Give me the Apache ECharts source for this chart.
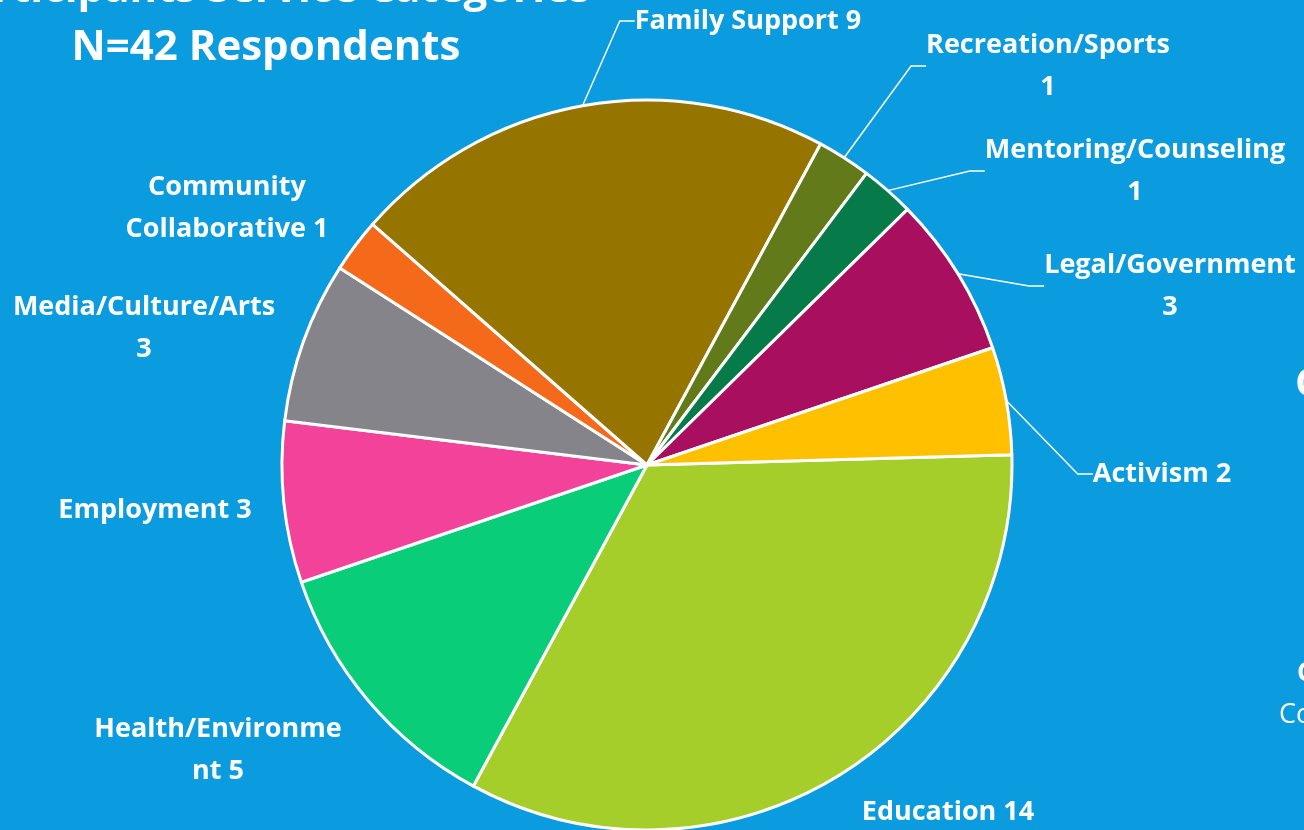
<!DOCTYPE html>
<html>
<head>
<meta charset="utf-8">
<style>
  html, body { margin: 0; padding: 0; background: #0b9bdf; }
  #chart { width: 1304px; height: 830px; }
</style>
<script src="https://cdn.jsdelivr.net/npm/echarts@6/dist/echarts.min.js"></script>
</head>
<body>
<div id="chart"></div>
<script>
// clockwise from the right, starting with Education
const categories = [
  'Education', 'Health/Environment', 'Employment', 'Media/Culture/Arts',
  'Community Collaborative', 'Family Support', 'Recreation/Sports',
  'Mentoring/Counseling', 'Legal/Government', 'Activism',
];
const respondents = [14, 5, 3, 3, 1, 9, 1, 1, 3, 2];

const colors = [
  '#a6ce2a', '#0acd7a', '#f2429a', '#85848a', '#f46a1a',
  '#967400', '#627a1a', '#077a4a', '#a80f5f', '#ffc000',
];

// label text templates, {b} = name, {c} = value
const labelTpl = [
  '{b} {c}', 'Health/Environme\nnt {c}', '{b} {c}', '{b}\n{c}', 'Community\nCollaborative {c}',
  '{b} {c}', '{b}\n{c}', '{b}\n{c}', '{b}\n{c}', '{b} {c}',
];
// where each label block is centred
const labelPos = [
  [948, 812], [218, 750], [155, 510], [144, 328], [227, 208],
  [748, 21], [1048, 66], [1135, 171], [1170, 286], [1162, 474],
];
const hasLine = [false, false, false, false, false, true, true, true, true, true];

const chart = echarts.init(document.getElementById('chart'));

const font = '"Open Sans", "DejaVu Sans", sans-serif';

const option = {
  backgroundColor: '#0b9bdf',
  graphic: [
    {
      type: 'text',
      x: 266, y: -10,
      style: {
        text: 'Participants Service Categories',
        fill: '#fff', font: 'bold 42px ' + font,
        textAlign: 'center', textVerticalAlign: 'middle',
      },
    },
    {
      type: 'text',
      x: 266, y: 48,
      style: {
        text: 'N=42 Respondents',
        fill: '#fff', font: 'bold 42px ' + font,
        textAlign: 'center', textVerticalAlign: 'middle',
      },
    },
    // bits of the next slide element, cut by the right edge
    {
      type: 'text', x: 1295, y: 385,
      style: { text: 'C', fill: '#fff', font: 'bold 40px ' + font, textVerticalAlign: 'middle' },
    },
    {
      type: 'text', x: 1297, y: 674,
      style: { text: 'C', fill: '#fff', font: 'bold 26px ' + font, textVerticalAlign: 'middle' },
    },
    {
      type: 'text', x: 1279, y: 715,
      style: { text: 'Co', fill: '#fff', font: '27px ' + font, textVerticalAlign: 'middle' },
    },
  ],
  series: [
    {
      type: 'pie',
      center: [647, 465],
      radius: 365,
      startAngle: 1.6,
      clockwise: true,
      avoidLabelOverlap: false,
      itemStyle: {
        borderColor: '#fff',
        borderWidth: 3,
      },
      label: {
        show: true,
        position: 'outside',
        color: '#fff',
        fontFamily: font,
        fontWeight: 'bold',
        fontSize: 27,
        lineHeight: 42,
        align: 'center',
      },
      labelLine: {
        show: true,
        length: 20,
        length2: 15,
        lineStyle: { color: '#fff', width: 1.5 },
      },
      labelLayout: (params) => {
        const p = labelPos[params.dataIndex];
        return { x: p[0], y: p[1], align: 'center', verticalAlign: 'middle' };
      },
      emphasis: { disabled: true },
      data: categories.map((name, i) => ({
        name,
        value: respondents[i],
        itemStyle: { color: colors[i] },
        label: { formatter: labelTpl[i] },
        labelLine: { show: hasLine[i] },
      })),
    },
  ],
};

chart.setOption(option);
</script>
</body>
</html>
